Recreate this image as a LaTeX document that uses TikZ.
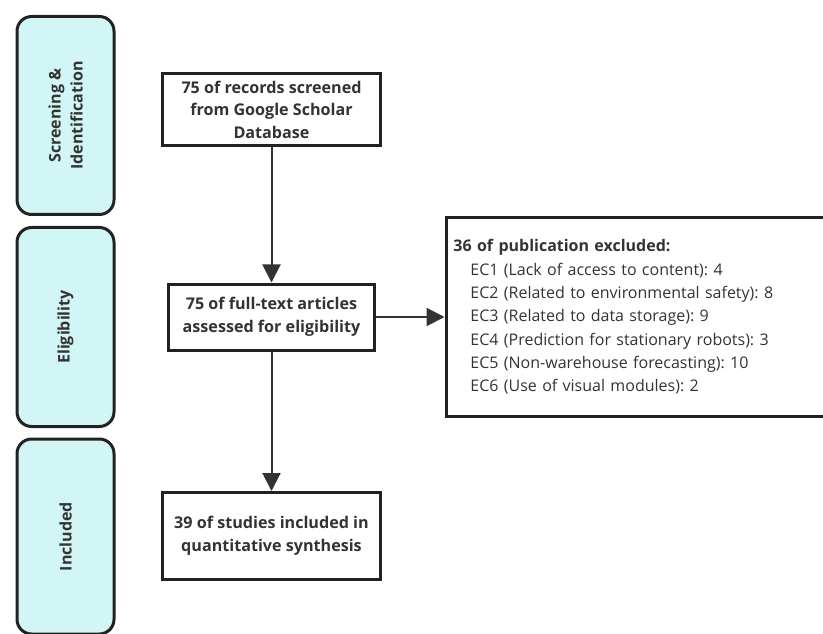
\documentclass[tikz,border=0pt]{standalone}
\usepackage{fontspec}
\setmainfont{Open Sans}
\usetikzlibrary{arrows.meta}
\frenchspacing
\definecolor{sidefill}{HTML}{D2F5F5}
\definecolor{edge}{HTML}{222222}
\definecolor{ink}{HTML}{333333}
\tikzset{
  sidebox/.style={draw=edge, fill=sidefill, line width=2.25pt, rounded corners=11pt,
    minimum width=72.75pt, inner sep=0pt},
  sidelabel/.style={rotate=90, text=ink, align=center, font=\bfseries\fontsize{12}{16.5}\selectfont},
  mainbox/.style={draw=edge, line width=2.25pt, text=ink, align=center, inner sep=0pt,
    font=\bfseries\fontsize{12.1}{16.9}\selectfont},
  conn/.style={draw=ink, line width=1.5pt, -{Triangle[length=13.5pt,width=13.5pt]}},
}
\begin{document}
\begin{tikzpicture}[x=0.75pt,y=-0.75pt]
\useasboundingbox (0,0) rectangle (823,634);
\clip (0,0) rectangle (823,634);
% side phase boxes
\node[sidebox, minimum height=148.5pt] (s1) at (65.5,115.5) {};
\node[sidelabel] (s1t) at (s1.center) {Screening \&\\Identification};
\node[sidebox, minimum height=149.25pt] (s2) at (65.5,327) {};
\node[sidelabel] (s2t) at (s2.center) {Eligibility};
\node[sidebox, minimum height=146.25pt] (s3) at (65.5,536.5) {};
\node[sidelabel] (s3t) at (s3.center) {Included};
% main boxes
\node[mainbox, minimum width=163.5pt, minimum height=54pt] (a) at (271.5,109.5) {75 of records screened\\from Google Scholar\\Database};
\node[mainbox, minimum width=154.5pt, minimum height=49.5pt] (b) at (271.5,317) {75 of full-text articles\\assessed for eligibility};
\node[mainbox, minimum width=163.5pt, minimum height=65.25pt] (c) at (271.5,536) {39 of studies included in\\quantitative synthesis};
% exclusion box
\node[draw=edge, line width=2.25pt, anchor=west, text=ink, align=left, text width=300pt,
  minimum height=148.5pt, inner xsep=5.6pt, inner ysep=0pt,
  font=\fontsize{12}{17.5}\selectfont] (x) at (444.5,317)
  {\textbf{36 of publication excluded:}\\
   \hspace*{12.75pt}EC1 (Lack of access to content): 4\\
   \hspace*{12.75pt}EC2 (Related to environmental safety): 8\\
   \hspace*{12.75pt}EC3 (Related to data storage): 9\\
   \hspace*{12.75pt}EC4 (Prediction for stationary robots): 3\\
   \hspace*{12.75pt}EC5 (Non-warehouse forecasting): 10\\
   \hspace*{12.75pt}EC6 (Use of visual modules): 2};
% connectors
\draw[conn] (a.south) -- (b.north);
\draw[conn] (b.south) -- (c.north);
\draw[conn] (b.east) -- (x.west);
\end{tikzpicture}
\end{document}
